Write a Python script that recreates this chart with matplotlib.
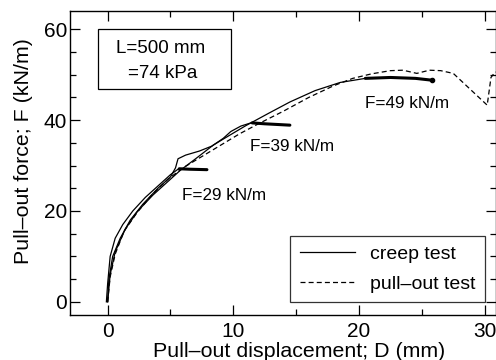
import matplotlib
matplotlib.use('Agg')
import matplotlib.pyplot as plt
from matplotlib.patches import Rectangle
from matplotlib.ticker import MultipleLocator

plt.rcParams['font.family'] = ['Liberation Sans', 'DejaVu Sans']

# creep test, loaded to 29 kN/m
c1_x = [-0.1, 0.0, 0.2, 0.6, 1.2, 2.0, 3.0, 4.2, 5.0, 5.6]
c1_y = [0.0, 4.0, 10.0, 14.0, 17.0, 20.0, 23.0, 26.0, 28.0, 29.2]
h1_x = [5.7, 6.5, 7.9]
h1_y = [29.3, 29.2, 29.1]

# creep test, loaded to 39 kN/m
c2_x = [0.0, 0.1, 0.4, 1.0, 1.8, 2.8, 4.0, 5.0, 5.4, 5.6, 6.2, 7.3, 8.3, 9.2, 9.8, 10.6, 11.4]
c2_y = [0.0, 5.0, 10.0, 14.0, 18.0, 21.5, 25.0, 27.5, 29.5, 31.5, 32.3, 33.2, 34.3, 36.0, 37.5, 38.7, 39.4]
h2_x = [11.5, 12.5, 14.5]
h2_y = [39.4, 39.2, 38.9]

# creep test, loaded to 49 kN/m
c3_x = [0.0, 0.2, 0.6, 1.4, 2.4, 3.6, 4.8, 5.8, 7.0, 8.4, 9.6, 11.0, 12.8, 14.5, 16.5, 18.5, 20.5]
c3_y = [0.0, 6.0, 11.0, 16.0, 20.0, 23.5, 26.5, 29.0, 31.5, 34.5, 36.5, 38.8, 41.5, 44.0, 46.5, 48.3, 49.2]
h3_x = [20.5, 22.5, 24.5, 25.8]
h3_y = [49.2, 49.4, 49.2, 48.8]

# pull-out test
po_x = [0.0, 0.2, 0.6, 1.3, 2.3, 3.5, 4.8, 6.0, 7.5, 9.0, 10.5, 12.0, 14.0, 16.0, 18.0,
        19.5, 21.0, 22.5, 23.5, 24.6, 25.6, 26.5, 27.5, 30.2, 30.5, 30.8, 31.5]
po_y = [0.0, 5.5, 10.5, 15.5, 19.5, 23.5, 27.0, 29.5, 32.0, 34.5, 37.0, 39.2, 42.0, 45.0, 47.6,
        49.2, 50.2, 50.9, 51.0, 50.3, 51.0, 50.9, 50.3, 43.3, 49.4, 50.5, 51.0]

labels = ['F=29 kN/m', 'F=39 kN/m', 'F=49 kN/m']
label_x = [5.95, 11.35, 20.5]
label_y = [23.5, 34.3, 43.7]

fig = plt.figure(figsize=(4.96, 3.6), dpi=100)
ax = fig.add_axes([0.141, 0.125, 0.859, 0.844])

ax.plot(c1_x, c1_y, 'k-', lw=0.9, label='creep test')
ax.plot(c2_x, c2_y, 'k-', lw=0.9)
ax.plot(c3_x, c3_y, 'k-', lw=0.9)
for hx, hy in [(h1_x, h1_y), (h2_x, h2_y), (h3_x, h3_y)]:
    ax.plot(hx, hy, 'k-', lw=2.2, solid_capstyle='round')
ax.plot(h3_x[-1], h3_y[-1], 'ko', ms=3)
ax.plot(po_x, po_y, 'k--', lw=0.9, dashes=(4, 2.5), label='pull\u2013out test')

for t, x, y in zip(labels, label_x, label_y):
    ax.text(x, y, t, fontsize=12.3, va='center', ha='left')

ax.add_patch(Rectangle((-0.8, 46.8), 10.6, 13.2, fill=False, ec='k', lw=0.9))
ax.text(4.2, 55.8, 'L=500 mm', fontsize=13.5, ha='center', va='center')
ax.text(4.4, 50.3, '=74 kPa', fontsize=13.5, ha='center', va='center')

ax.set_xlim(-3, 30.9)
ax.set_ylim(-2.9, 64)
ax.xaxis.set_major_locator(MultipleLocator(10))
ax.xaxis.set_minor_locator(MultipleLocator(5))
ax.yaxis.set_major_locator(MultipleLocator(20))
ax.yaxis.set_minor_locator(MultipleLocator(5))
ax.tick_params(which='both', direction='in', top=True, right=True, labelsize=15, width=0.9)
ax.tick_params(which='major', length=7)
ax.tick_params(which='minor', length=4)
ax.tick_params(axis='x', pad=5)
ax.tick_params(axis='y', pad=2)
for s in ax.spines.values():
    s.set_linewidth(1.0)

ax.set_xlabel('Pull\u2013out displacement; D (mm)', fontsize=15.4)
ax.set_ylabel('Pull\u2013out force; F (kN/m)', fontsize=15.4)
ax.xaxis.set_label_coords(0.539, -0.088)
ax.yaxis.set_label_coords(-0.087, 0.54)

leg = ax.legend(loc='lower right', fontsize=14, frameon=True, fancybox=False,
                edgecolor='k', handlelength=2.8, borderpad=0.5, labelspacing=0.6,
                handletextpad=0.8, bbox_to_anchor=(0.998, 0.01))
leg.get_frame().set_linewidth(0.9)

fig.savefig('out.png', dpi=100)
